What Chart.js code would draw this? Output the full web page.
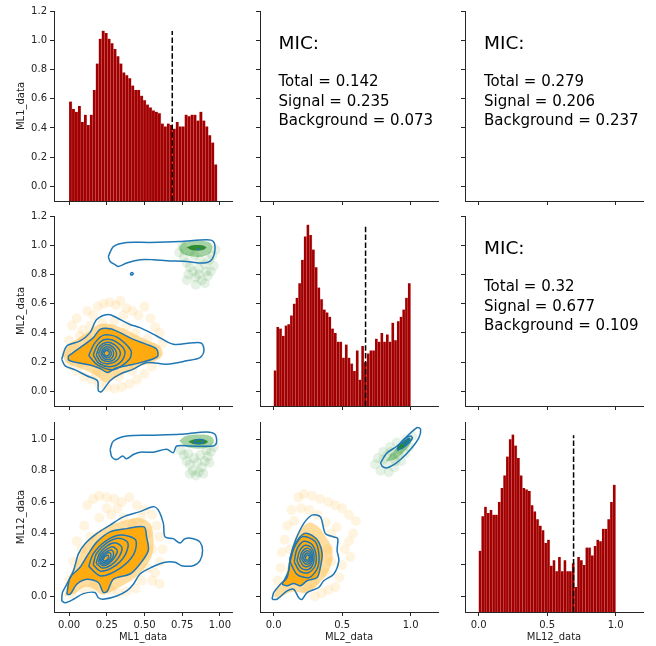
<!DOCTYPE html>
<html>
<head>
<meta charset="utf-8">
<script src="https://cdn.jsdelivr.net/npm/chart.js@4.4.0/dist/chart.umd.min.js"></script>
<style>
    body { margin: 0; background: #fff; width: 656px; height: 646px; position: relative; overflow: hidden; font-family: "DejaVu Sans", sans-serif; }
    canvas { position: absolute; }
    .lbl { position: absolute; font-size: 10px; color: #222; white-space: nowrap; line-height: 1; transform: translate(-50%, -50%); }
    .lbl.rot { transform: translate(-50%, -50%) rotate(-90deg); }
    .mic { position: absolute; white-space: nowrap; line-height: 1; color: #000; }
</style>
</head>
<body>
<script>
// Variáveis
const VARS = ['ML1_data', 'ML2_data', 'ML12_data'];

// Eixos (faixa e ticks)
const X_RANGES = [[-0.1, 1.08], [-0.1, 1.2], [-0.1, 1.2]];
const X_TICKS = [[0, 0.25, 0.5, 0.75, 1.0], [0, 0.5, 1.0], [0, 0.5, 1.0]];
const X_DECIMALS = [2, 1, 1];
const Y_RANGES = [[-0.1, 1.2], [-0.1, 1.2], [-0.1, 1.11]];
const Y_TICKS = [[0, 0.2, 0.4, 0.6, 0.8, 1.0, 1.2], [0, 0.2, 0.4, 0.6, 0.8, 1.0, 1.2], [0, 0.2, 0.4, 0.6, 0.8, 1.0]];

// Histogramas (50 bins)
const ML1_BINS = [0, 0.982];
const ML2_BINS = [0, 1.0];
const ML12_BINS = [0, 1.0];
const ML1_HIST = [0.58, 0.53, 0.51, 0.55, 0.44, 0.49, 0.42, 0.49, 0.66, 0.84, 1.01, 1.065, 1.05, 1.01, 0.98, 0.94, 0.89, 0.84, 0.78, 0.76,
    0.74, 0.69, 0.66, 0.66, 0.62, 0.59, 0.56, 0.54, 0.52, 0.51, 0.50, 0.43, 0.41, 0.43, 0.42, 0.395, 0.44, 0.41, 0.41, 0.49,
    0.48, 0.49, 0.49, 0.45, 0.51, 0.45, 0.41, 0.35, 0.30, 0.15];
const ML2_HIST = [0.143, 0.44, 0.43, 0.38, 0.45, 0.46, 0.52, 0.60, 0.64, 0.74, 0.90, 1.06, 1.14, 1.07, 0.97, 0.85, 0.71, 0.63, 0.56, 0.54,
    0.51, 0.43, 0.40, 0.34, 0.34, 0.23, 0.32, 0.23, 0.19, 0.14, 0.28, 0.08, 0.31, 0.20, 0.26, 0.28, 0.28, 0.36, 0.34, 0.40,
    0.34, 0.39, 0.34, 0.47, 0.35, 0.48, 0.51, 0.56, 0.64, 0.74];
const ML12_HIST = [0.29, 0.51, 0.57, 0.53, 0.55, 0.52, 0.52, 0.60, 0.69, 0.77, 0.89, 1.0, 1.03, 0.96, 0.88, 0.77, 0.69, 0.68, 0.67, 0.58,
    0.54, 0.49, 0.45, 0.42, 0.34, 0.36, 0.195, 0.23, 0.16, 0.25, 0.16, 0.23, 0.16, 0.16, 0.21, 0.06, 0.25, 0.23, 0.20, 0.31,
    0.31, 0.26, 0.32, 0.36, 0.35, 0.43, 0.43, 0.49, 0.60, 0.71];
const CUTS = [0.684, 0.671, 0.693];
const CUT_TOPS = [1.063, 1.141, 1.026];

// MIC
const MIC_1_2 = ['0.142', '0.235', '0.073'];
const MIC_1_12 = ['0.279', '0.206', '0.237'];
const MIC_2_12 = ['0.32', '0.677', '0.109'];

// ML1 x ML2
const P21_BG_POINTS = [[0.02,0.45],[0.05,0.50],[0.09,0.42],[0.12,0.55],[0.16,0.52],[0.19,0.58],[0.23,0.60],[0.27,0.61],[0.31,0.59],[0.34,0.62],
    [0.38,0.57],[0.42,0.55],[0.46,0.52],[0.50,0.58],[0.54,0.50],[0.57,0.44],[0.60,0.40],[0.62,0.33],[0.58,0.25],[0.55,0.17],
    [0.50,0.12],[0.45,0.08],[0.40,0.05],[0.35,0.03],[0.30,0.02],[0.25,0.03],[0.20,0.05],[0.15,0.08],[0.10,0.10],[0.05,0.14],
    [0.00,0.18],[-0.02,0.27],[0.00,0.35],[0.07,0.38],[0.14,0.45],[0.22,0.47],[0.30,0.48],[0.38,0.45],[0.44,0.40],[0.52,0.36],
    [0.48,0.22],[0.42,0.14],[0.33,0.10],[0.18,0.12],[0.08,0.20],[0.26,0.42],[0.36,0.52],[0.12,0.36],[0.55,0.30],[0.03,0.30]];
const P21_SIG_POINTS = [[0.73,0.95],[0.76,0.92],[0.78,0.88],[0.80,0.85],[0.79,0.80],[0.82,0.82],[0.84,0.78],[0.86,0.80],[0.88,0.76],[0.90,0.74],
    [0.92,0.79],[0.94,0.82],[0.96,0.86],[0.95,0.93],[0.97,0.97],[0.93,0.90],[0.90,0.87],[0.87,0.90],[0.83,0.93],[0.80,0.96],
    [0.75,0.99],[0.86,0.84],[0.91,0.82],[0.78,0.76],[0.84,0.73]];
const P21_BG_HALO = [[-0.04,0.24],[0.0,0.32],[0.07,0.37],[0.14,0.42],[0.20,0.46],[0.28,0.46],[0.36,0.43],[0.44,0.39],[0.52,0.35],[0.60,0.31],
    [0.62,0.25],[0.56,0.20],[0.46,0.17],[0.38,0.13],[0.30,0.09],[0.24,0.06],[0.19,0.10],[0.12,0.14],[0.04,0.17],[-0.02,0.20]];
const P21_SIG_CORE = [[0.73,0.99],[0.76,1.02],[0.85,1.03],[0.93,1.02],[0.95,0.99],[0.93,0.94],[0.86,0.92],[0.78,0.93],[0.74,0.95]];
const P21_SIG_DENSE = [[0.78,0.985],[0.82,1.0],[0.88,1.0],[0.91,0.985],[0.88,0.965],[0.82,0.965]];
const P21_OUTER = [[-0.049,0.22],[-0.015,0.311],[0.073,0.345],[0.139,0.402],[0.183,0.492],[0.26,0.526],[0.316,0.504],[0.404,0.458],[0.47,0.436],
    [0.581,0.379],[0.691,0.322],[0.823,0.333],[0.879,0.329],[0.894,0.277],[0.868,0.231],[0.779,0.209],[0.647,0.186],[0.514,0.197],
    [0.426,0.152],[0.338,0.118],[0.272,0.073],[0.216,-0.002],[0.194,0.005],[0.188,0.073],[0.117,0.107],[0.04,0.147],[-0.026,0.175]];
const P21_OUTER_SIG = [[0.26,0.923],[0.294,0.991],[0.382,1.019],[0.536,1.019],[0.735,1.025],[0.912,1.037],[0.956,1.025],[0.967,0.969],
    [0.945,0.901],[0.89,0.878],[0.779,0.889],[0.647,0.894],[0.558,0.901],[0.47,0.901],[0.382,0.878],[0.327,0.855],[0.305,0.867],[0.272,0.889]];
const P21_RINGS = [
    [[-0.004,0.243],[0.073,0.299],[0.161,0.368],[0.205,0.424],[0.272,0.429],[0.338,0.402],[0.426,0.356],[0.514,0.322],[0.581,0.288],
     [0.585,0.238],[0.492,0.202],[0.382,0.175],[0.305,0.157],[0.254,0.129],[0.205,0.157],[0.139,0.181],[0.051,0.197],[-0.004,0.216]],
    [[0.13,0.245],[0.17,0.33],[0.23,0.385],[0.32,0.37],[0.41,0.28],[0.40,0.22],[0.30,0.15],[0.19,0.18]],
    [[0.16,0.25],[0.19,0.32],[0.24,0.355],[0.31,0.34],[0.37,0.275],[0.35,0.21],[0.28,0.17],[0.20,0.19]],
    [[0.18,0.25],[0.205,0.31],[0.245,0.335],[0.30,0.32],[0.34,0.265],[0.32,0.215],[0.27,0.19],[0.21,0.20]],
    [[0.195,0.255],[0.215,0.30],[0.245,0.32],[0.29,0.305],[0.315,0.262],[0.30,0.22],[0.265,0.205],[0.22,0.215]],
    [[0.21,0.257],[0.225,0.29],[0.247,0.305],[0.28,0.295],[0.295,0.262],[0.285,0.23],[0.26,0.218],[0.228,0.228]],
    [[0.22,0.258],[0.232,0.282],[0.248,0.292],[0.27,0.285],[0.28,0.262],[0.273,0.24],[0.255,0.232],[0.235,0.238]],
    [[0.23,0.259],[0.238,0.274],[0.248,0.28],[0.262,0.275],[0.267,0.261],[0.262,0.248],[0.25,0.243],[0.238,0.247]],
    [[0.405,0.80],[0.41,0.81],[0.42,0.812],[0.425,0.805],[0.42,0.798],[0.41,0.797]],
    [[0.852,0.975],[0.857,0.98],[0.862,0.975],[0.857,0.97]]
];

// ML1 x ML12
const P31_BG_POINTS = [[0.12,0.58],[0.16,0.62],[0.20,0.64],[0.25,0.63],[0.30,0.62],[0.35,0.60],[0.40,0.63],[0.45,0.58],[0.50,0.55],[0.55,0.52],
    [0.58,0.45],[0.60,0.38],[0.62,0.30],[0.60,0.22],[0.57,0.15],[0.55,0.10],[0.60,0.08],[0.52,0.18],[0.48,0.10],[0.44,0.05],
    [0.38,0.03],[0.33,0.02],[0.28,0.04],[0.10,0.45],[0.05,0.35],[0.08,0.30],[0.03,0.22],[0.00,0.10],[0.02,0.02],[0.14,0.38],
    [0.20,0.50],[0.28,0.52],[0.36,0.50],[0.42,0.46],[0.52,0.40],[0.55,0.30],[0.50,0.26],[0.16,0.06],[0.10,0.04],[0.48,0.50],
    [0.25,0.56],[0.32,0.56]];
const P31_SIG_POINTS = [[0.74,0.93],[0.76,0.90],[0.78,0.86],[0.80,0.84],[0.82,0.80],[0.84,0.77],[0.86,0.79],[0.88,0.82],[0.90,0.86],[0.92,0.89],
    [0.94,0.92],[0.96,0.95],[0.91,0.93],[0.87,0.90],[0.83,0.88],[0.79,0.91],[0.85,0.85],[0.89,0.78],[0.80,0.78],[0.93,0.85]];
const P31_BG_HALO = [[-0.03,0.0],[0.0,0.12],[0.05,0.22],[0.10,0.32],[0.17,0.40],[0.26,0.45],[0.36,0.48],[0.46,0.50],[0.54,0.46],[0.56,0.36],
    [0.55,0.26],[0.50,0.18],[0.44,0.12],[0.36,0.07],[0.28,0.03],[0.22,0.01],[0.16,0.05],[0.10,0.06],[0.04,0.02]];
const P31_SIG_CORE = [[0.73,0.99],[0.77,1.02],[0.86,1.03],[0.94,1.02],[0.96,0.99],[0.93,0.95],[0.86,0.94],[0.78,0.95]];
const P31_SIG_DENSE = [[0.79,0.985],[0.83,1.0],[0.89,1.0],[0.92,0.985],[0.89,0.968],[0.83,0.968]];
const P31_OUTER = [[-0.049,-0.03],[-0.044,0.024],[-0.015,0.077],[0.029,0.163],[0.062,0.27],[0.106,0.335],[0.183,0.399],[0.272,0.453],
    [0.36,0.506],[0.47,0.539],[0.558,0.571],[0.592,0.549],[0.625,0.464],[0.636,0.378],[0.691,0.367],[0.735,0.339],[0.768,0.367],
    [0.823,0.367],[0.868,0.345],[0.885,0.292],[0.868,0.227],[0.823,0.195],[0.746,0.195],[0.702,0.217],[0.636,0.217],[0.547,0.185],
    [0.47,0.142],[0.426,0.077],[0.382,0.034],[0.316,0.002],[0.227,-0.019],[0.194,-0.009],[0.172,0.024],[0.095,0.017],[0.029,-0.019],[-0.026,-0.041]];
const P31_OUTER_SIG = [[0.272,0.936],[0.294,0.989],[0.382,1.021],[0.536,1.026],[0.735,1.032],[0.912,1.047],[0.967,1.032],[0.978,0.979],
    [0.956,0.957],[0.801,0.957],[0.713,0.957],[0.691,0.914],[0.647,0.936],[0.558,0.918],[0.47,0.918],[0.426,0.903],[0.382,0.876],
    [0.355,0.893],[0.316,0.871],[0.283,0.888]];
const P31_RINGS = [
    [[-0.015,0.013],[0.007,0.12],[0.073,0.185],[0.128,0.27],[0.183,0.345],[0.272,0.41],[0.382,0.431],[0.497,0.442],[0.514,0.378],
     [0.525,0.292],[0.47,0.206],[0.404,0.142],[0.294,0.109],[0.254,0.034],[0.227,0.024],[0.194,0.088],[0.117,0.109],[0.051,0.077],[0.007,0.013]],
    [[0.13,0.19],[0.16,0.27],[0.24,0.35],[0.34,0.39],[0.44,0.36],[0.43,0.27],[0.34,0.18],[0.21,0.13]],
    [[0.16,0.20],[0.18,0.27],[0.25,0.34],[0.33,0.37],[0.39,0.34],[0.37,0.26],[0.30,0.19],[0.21,0.16]],
    [[0.18,0.21],[0.20,0.27],[0.25,0.32],[0.31,0.34],[0.35,0.31],[0.33,0.25],[0.28,0.20],[0.22,0.18]],
    [[0.195,0.215],[0.21,0.265],[0.25,0.30],[0.29,0.315],[0.32,0.29],[0.30,0.245],[0.265,0.21],[0.225,0.195]],
    [[0.205,0.22],[0.22,0.26],[0.25,0.285],[0.28,0.295],[0.295,0.275],[0.285,0.24],[0.255,0.215],[0.228,0.205]],
    [[0.215,0.225],[0.228,0.255],[0.248,0.272],[0.268,0.278],[0.278,0.262],[0.27,0.238],[0.25,0.222],[0.232,0.215]],
    [[0.225,0.23],[0.233,0.248],[0.245,0.258],[0.257,0.262],[0.262,0.252],[0.257,0.238],[0.246,0.228],[0.235,0.225]],
    [[0.825,0.985],[0.845,0.997],[0.875,0.998],[0.895,0.99],[0.885,0.978],[0.855,0.975],[0.83,0.978]]
];

// ML2 x ML12
const P32_BG_POINTS = [[0.18,0.63],[0.22,0.65],[0.28,0.64],[0.34,0.62],[0.40,0.60],[0.45,0.58],[0.50,0.56],[0.55,0.52],[0.60,0.48],[0.58,0.40],
    [0.55,0.35],[0.52,0.30],[0.56,0.25],[0.50,0.20],[0.48,0.12],[0.45,0.06],[0.40,0.04],[0.35,0.02],[0.30,0.00],[0.13,0.55],
    [0.10,0.45],[0.08,0.36],[0.06,0.28],[0.05,0.18],[0.15,0.48],[0.20,0.56],[0.26,0.55],[0.32,0.52],[0.38,0.47],[0.42,0.40],
    [0.46,0.44],[0.40,0.30],[0.38,0.15],[0.42,0.22],[0.12,0.30],[0.25,0.05],[0.30,0.08],[0.03,0.10]];
const P32_SIG_POINTS = [[0.74,0.84],[0.76,0.88],[0.78,0.80],[0.80,0.92],[0.82,0.84],[0.84,0.79],[0.85,0.95],[0.87,0.88],[0.88,0.82],[0.90,0.98],
    [0.91,0.90],[0.93,0.86],[0.95,0.96],[0.97,1.00],[0.99,0.95],[1.01,1.02],[0.96,0.91],[0.86,0.92],[0.80,0.87],[0.83,0.90],
    [0.92,0.94],[0.89,0.86]];
const P32_BG_HALO = [[0.0,0.0],[0.03,0.06],[0.08,0.12],[0.11,0.22],[0.14,0.33],[0.19,0.42],[0.26,0.47],[0.33,0.44],[0.38,0.38],[0.42,0.32],
    [0.43,0.24],[0.40,0.16],[0.35,0.10],[0.29,0.05],[0.22,0.02],[0.16,0.03],[0.10,0.02],[0.04,-0.01]];
const P32_SIG_CORE = [[0.82,0.86],[0.86,0.91],[0.92,0.96],[0.98,1.01],[1.01,1.0],[0.99,0.96],[0.94,0.91],[0.88,0.87]];
const P32_SIG_DENSE = [[0.90,0.945],[0.95,0.99],[0.99,1.01],[1.0,0.995],[0.96,0.955],[0.91,0.93]];
const P32_OUTER = [[-0.012,-0.019],[0.0,0.024],[0.049,0.077],[0.098,0.12],[0.122,0.249],[0.159,0.356],[0.22,0.464],[0.28,0.517],[0.341,0.506],
    [0.378,0.399],[0.439,0.378],[0.468,0.367],[0.463,0.292],[0.476,0.227],[0.439,0.142],[0.366,0.099],[0.329,0.056],[0.244,0.024],
    [0.207,-0.019],[0.183,-0.009],[0.146,0.045],[0.098,0.034],[0.024,-0.019]];
const P32_OUTER_SIG = [[0.78,0.85],[0.829,0.914],[0.902,0.957],[0.976,1.021],[1.049,1.075],[1.073,1.064],[1.061,1.011],[1.0,0.936],
    [0.927,0.871],[0.878,0.839],[0.829,0.818],[0.793,0.828]];
const P32_RINGS = [
    [[0.061,0.077],[0.11,0.163],[0.122,0.249],[0.159,0.335],[0.22,0.399],[0.28,0.388],[0.329,0.345],[0.354,0.27],[0.341,0.185],
     [0.317,0.12],[0.244,0.099],[0.195,0.067],[0.146,0.082],[0.098,0.067]],
    [[0.12,0.22],[0.15,0.31],[0.21,0.38],[0.30,0.35],[0.33,0.27],[0.32,0.18],[0.26,0.12],[0.17,0.14]],
    [[0.15,0.22],[0.17,0.30],[0.22,0.35],[0.28,0.33],[0.31,0.26],[0.30,0.19],[0.25,0.15],[0.19,0.16]],
    [[0.17,0.225],[0.19,0.29],[0.23,0.325],[0.275,0.31],[0.295,0.26],[0.285,0.20],[0.25,0.17],[0.20,0.18]],
    [[0.19,0.23],[0.205,0.28],[0.235,0.305],[0.27,0.295],[0.285,0.255],[0.275,0.21],[0.25,0.19],[0.215,0.195]],
    [[0.205,0.235],[0.215,0.27],[0.24,0.29],[0.265,0.282],[0.275,0.252],[0.268,0.22],[0.25,0.205],[0.225,0.21]],
    [[0.218,0.238],[0.226,0.262],[0.243,0.276],[0.26,0.27],[0.267,0.25],[0.262,0.228],[0.25,0.218],[0.232,0.222]],
    [[0.23,0.24],[0.235,0.255],[0.246,0.263],[0.256,0.26],[0.26,0.248],[0.256,0.235],[0.248,0.23],[0.238,0.232]],
    [[0.902,0.946],[0.951,1.0],[1.0,1.021],[1.012,1.004],[0.963,0.957],[0.907,0.931]],
    [[0.94,0.975],[0.98,1.003],[0.99,0.996],[0.955,0.965]]
];

// Layout dos painéis (pixels)
const PLOT_LEFT = [54, 260, 465];
const PLOT_TOP = [11, 216, 422];
const PLOT_W = 178, PLOT_H = 190;
const Y_AXIS_W = 50, X_AXIS_H = 26, PAD_TOP = 10, PAD_RIGHT = 14;

const BLUE = '#1f77b4';
const AXIS_COLOR = '#262626';

const toXY = pts => pts.map(([x, y]) => ({ x, y }));
const closed = pts => toXY([...pts, pts[0]]);

function contour(pts) {
    return { type: 'line', data: closed(pts), borderColor: BLUE, borderWidth: 1.5, pointRadius: 0, tension: 0.3, fill: false, order: 1 };
}

function area(pts, color, order) {
    return { type: 'line', data: closed(pts), borderColor: 'transparent', borderWidth: 0, backgroundColor: color, fill: 'shape', pointRadius: 0, tension: 0.3, order };
}

function points(pts, color) {
    return { type: 'scatter', data: toXY(pts), pointRadius: 5, backgroundColor: color, borderWidth: 0, order: 7 };
}

function axis(range, ticks, decimals, showLabels, horizontal) {
    return {
        type: 'linear',
        min: range[0],
        max: range[1],
        offset: false,
        afterBuildTicks: s => { s.ticks = ticks.map(v => ({ value: v })); },
        afterFit: s => { if (horizontal) s.height = X_AXIS_H; else s.width = Y_AXIS_W; },
        grid: { display: true, drawOnChartArea: false, drawTicks: true, tickLength: 4, color: AXIS_COLOR, lineWidth: 1, offset: false },
        border: { display: true, color: AXIS_COLOR, width: 1 },
        ticks: {
            display: showLabels, color: '#222', padding: 3, autoSkip: false, maxRotation: 0,
            font: { size: 10, family: 'DejaVu Sans' },
            callback: v => Number(v).toFixed(decimals)
        }
    };
}

function panel(r, c, type, datasets) {
    const cv = document.createElement('canvas');
    const w = Y_AXIS_W + PLOT_W + PAD_RIGHT, h = PAD_TOP + PLOT_H + X_AXIS_H;
    cv.width = w; cv.height = h;
    cv.style.left = (PLOT_LEFT[c] - Y_AXIS_W) + 'px';
    cv.style.top = (PLOT_TOP[r] - PAD_TOP) + 'px';
    cv.style.width = w + 'px'; cv.style.height = h + 'px';
    document.body.appendChild(cv);
    new Chart(cv, {
        type,
        data: { datasets },
        options: {
            responsive: false,
            animation: false,
            events: [],
            layout: { padding: { top: PAD_TOP, right: PAD_RIGHT, left: 0, bottom: 0 } },
            plugins: { legend: { display: false }, tooltip: { enabled: false } },
            scales: {
                x: axis(X_RANGES[c], X_TICKS[c], X_DECIMALS[c], r === 2, true),
                y: axis(Y_RANGES[r], Y_TICKS[r], 1, c === 0, false)
            }
        }
    });
}

function histPanel(i, values, bins) {
    const w = (bins[1] - bins[0]) / values.length;
    const base = Y_RANGES[i][0];
    panel(i, i, 'bar', [
        {
            type: 'line', data: [{ x: CUTS[i], y: base }, { x: CUTS[i], y: CUT_TOPS[i] }],
            borderColor: '#000', borderWidth: 1.5, borderDash: [5.5, 2.4], pointRadius: 0, order: 0
        },
        {
            type: 'bar', data: values.map((v, k) => ({ x: bins[0] + (k + 0.5) * w, y: v })),
            base, backgroundColor: '#a20000', borderColor: 'rgba(215,120,120,0.55)',
            borderWidth: { left: 0, right: 0.6, top: 0, bottom: 0 }, borderSkipped: false, inflateAmount: 0.4,
            barPercentage: 1, categoryPercentage: 1, order: 1
        }
    ]);
}

function scatterPanel(r, c, d) {
    const ds = [
        points(d.bg, 'rgba(255,165,0,0.12)'),
        points(d.sig, 'rgba(0,128,0,0.1)'),
        area(d.halo, 'rgba(255,165,0,0.38)', 6),
        area(d.rings[0], 'rgba(255,165,0,0.9)', 5),
        area(d.sigCore, 'rgba(0,128,0,0.35)', 4),
        area(d.sigDense, 'rgba(0,110,0,0.7)', 3),
        contour(d.outer),
        contour(d.outerSig),
        ...d.rings.map(contour)
    ];
    panel(r, c, 'scatter', ds);
}

function emptyPanel(r, c) {
    panel(r, c, 'scatter', []);
}

function addLabel(text, cx, cy, rotate) {
    const el = document.createElement('div');
    el.className = 'lbl' + (rotate ? ' rot' : '');
    el.textContent = text;
    el.style.left = cx + 'px';
    el.style.top = cy + 'px';
    document.body.appendChild(el);
}

function addMic(left, top, values) {
    const lines = [['MIC:', 18.5, 49.5], ['Total = ' + values[0], 15, 87], ['Signal = ' + values[1], 15, 106.5], ['Background = ' + values[2], 15, 126]];
    lines.forEach(([text, size, baseline]) => {
        const el = document.createElement('div');
        el.className = 'mic';
        el.textContent = text;
        el.style.fontSize = size + 'px';
        el.style.left = left + 'px';
        el.style.top = (top + baseline - 0.846 * size) + 'px';
        document.body.appendChild(el);
    });
}

// Diagonal
histPanel(0, ML1_HIST, ML1_BINS);
histPanel(1, ML2_HIST, ML2_BINS);
histPanel(2, ML12_HIST, ML12_BINS);

// Triângulo inferior
scatterPanel(1, 0, { bg: P21_BG_POINTS, sig: P21_SIG_POINTS, halo: P21_BG_HALO, sigCore: P21_SIG_CORE, sigDense: P21_SIG_DENSE, outer: P21_OUTER, outerSig: P21_OUTER_SIG, rings: P21_RINGS });
scatterPanel(2, 0, { bg: P31_BG_POINTS, sig: P31_SIG_POINTS, halo: P31_BG_HALO, sigCore: P31_SIG_CORE, sigDense: P31_SIG_DENSE, outer: P31_OUTER, outerSig: P31_OUTER_SIG, rings: P31_RINGS });
scatterPanel(2, 1, { bg: P32_BG_POINTS, sig: P32_SIG_POINTS, halo: P32_BG_HALO, sigCore: P32_SIG_CORE, sigDense: P32_SIG_DENSE, outer: P32_OUTER, outerSig: P32_OUTER_SIG, rings: P32_RINGS });

// Triângulo superior (texto)
emptyPanel(0, 1);
emptyPanel(0, 2);
emptyPanel(1, 2);
addMic(278.5, 0, MIC_1_2);
addMic(484, 0, MIC_1_12);
addMic(484, 205, MIC_2_12);

// Rótulos dos eixos
addLabel(VARS[0], 21, 106, true);
addLabel(VARS[1], 21, 311, true);
addLabel(VARS[2], 21, 517, true);
addLabel(VARS[0], 143, 637, false);
addLabel(VARS[1], 349, 637, false);
addLabel(VARS[2], 554, 637, false);
</script>
</body>
</html>
